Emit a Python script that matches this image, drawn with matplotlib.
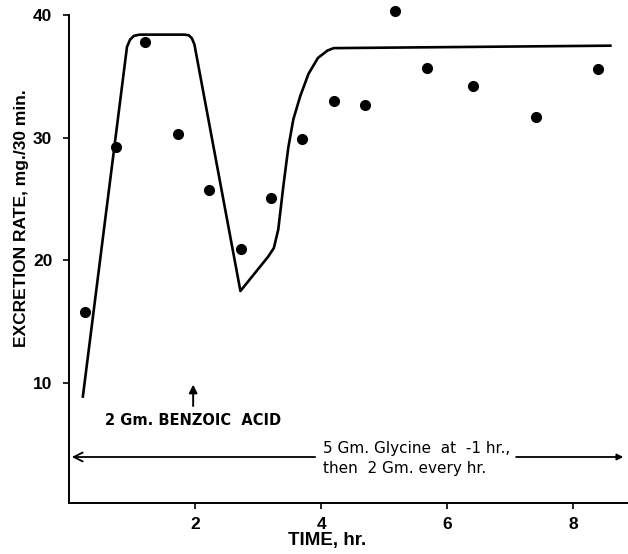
import matplotlib
matplotlib.use("Agg")
import matplotlib.pyplot as plt

# measured excretion rate (mg./30 min.) at each collection time (hr.)
obs_time = [0.26, 0.75, 1.21, 1.73, 2.22, 2.73, 3.21, 3.70, 4.21, 4.70, 5.18, 5.68, 6.41, 7.41, 8.39]
obs_rate = [15.8, 29.2, 37.8, 30.3, 25.7, 20.9, 25.1, 29.9, 33.0, 32.7, 40.3, 35.7, 34.2, 31.7, 35.6]

# drawn curve
curve_time = [0.22, 0.92, 0.97, 1.03, 1.12, 1.83, 1.90, 1.95, 1.99, 2.72, 3.16, 3.25, 3.32, 3.40,
              3.48, 3.56, 3.67, 3.80, 3.95, 4.10, 4.20, 8.59]
curve_rate = [8.9, 37.4, 38.0, 38.3, 38.4, 38.4, 38.35, 38.1, 37.6, 17.5, 20.3, 21.0, 22.5, 26.0,
              29.2, 31.5, 33.4, 35.2, 36.5, 37.1, 37.3, 37.5]

x_ticks = [2, 4, 6, 8]
y_ticks = [10, 20, 30, 40]

plt.rcParams['font.family'] = ['Liberation Sans', 'DejaVu Sans']

fig = plt.figure(figsize=(6.28, 5.54), dpi=100)
ax = fig.add_axes([69 / 628, 51 / 554, (628 - 69) / 628, (503 - 15) / 554])

ax.plot(curve_time, curve_rate, color='black', lw=1.9, solid_joinstyle='round', clip_on=False)
ax.plot(obs_time, obs_rate, 'o', color='black', markersize=7, clip_on=False)

ax.set_xlim(0, 8.87)
ax.set_ylim(0.22, 40)
ax.set_xticks(x_ticks)
ax.set_yticks(y_ticks)
ax.tick_params(direction='out', length=4, width=1.2, labelsize=12.5)
ax.tick_params(axis='y', pad=8)
ax.tick_params(axis='x', pad=6)
for lbl in ax.get_xticklabels() + ax.get_yticklabels():
    lbl.set_fontweight('bold')

for side in ['top', 'right']:
    ax.spines[side].set_visible(False)
for side in ['left', 'bottom']:
    ax.spines[side].set_linewidth(1.4)

ax.set_xlabel('TIME, hr.', fontsize=13.5, fontweight='bold')
ax.xaxis.set_label_coords(4.1 / 8.87, -(532 - 503) / (503 - 15))
ax.set_ylabel('EXCRETION RATE, mg./30 min.', fontsize=12.5, fontweight='bold')
ax.yaxis.set_label_coords(-(69 - 29) / (628 - 69), (503 - 218) / (503 - 15))

# benzoic acid marker
ax.annotate('', xy=(1.97, 10.1), xytext=(1.97, 7.9),
            arrowprops=dict(arrowstyle='-|>', color='black', lw=1.4, mutation_scale=12))
ax.text(1.97, 6.95, '2 Gm. BENZOIC  ACID', fontsize=10.5, fontweight='bold',
        family='DejaVu Sans', ha='center', va='center')

# glycine dosing span
ax.annotate('', xy=(0.0, 3.97), xytext=(3.95, 3.97),
            arrowprops=dict(arrowstyle='->', color='black', lw=1.3, mutation_scale=16),
            annotation_clip=False)
ax.annotate('', xy=(8.84, 3.97), xytext=(7.05, 3.97),
            arrowprops=dict(arrowstyle='-|>', color='black', lw=1.3, mutation_scale=9),
            annotation_clip=False)
ax.text(4.03, 4.7, '5 Gm. Glycine  at  -1 hr.,', fontsize=11, family='DejaVu Sans',
        ha='left', va='center')
ax.text(4.03, 3.05, 'then  2 Gm. every hr.', fontsize=11, family='DejaVu Sans',
        ha='left', va='center')

fig.savefig('out.png', dpi=100)
